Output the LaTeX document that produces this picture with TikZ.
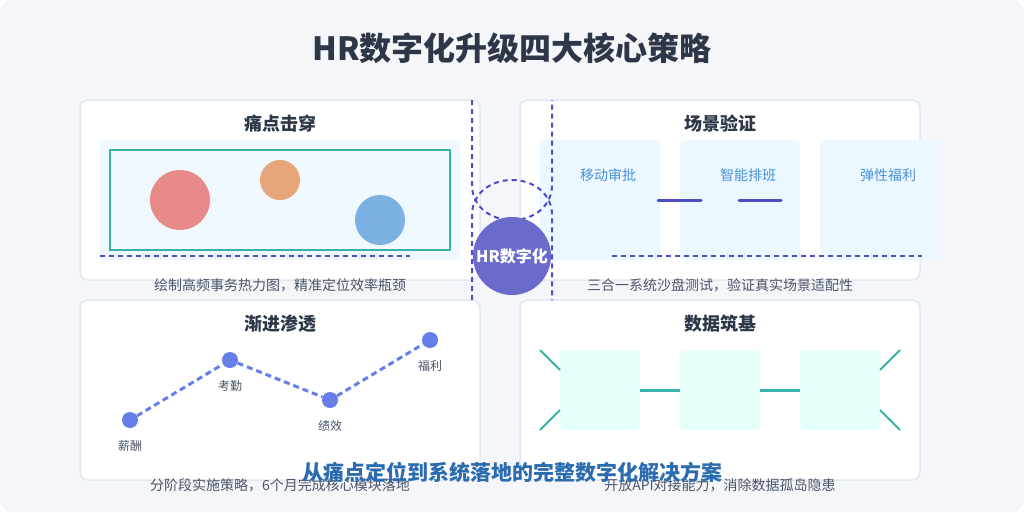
\documentclass[tikz,border=0pt]{standalone}
\usepackage{fontspec}
\setmainfont{Noto Sans CJK SC}
\usetikzlibrary{positioning}
\definecolor{bgcol}{HTML}{F4F6FA}
\definecolor{edgecol}{HTML}{E2E8F0}
\definecolor{inkcol}{HTML}{2D3748}
\definecolor{capcol}{HTML}{4A5568}
\definecolor{tealcol}{HTML}{38B2AC}
\definecolor{guidecol}{HTML}{4C4CC4}
\definecolor{hrcol}{HTML}{6B6BCC}
\definecolor{hotbg}{HTML}{F0F8FF}
\definecolor{hotred}{HTML}{E88A8A}
\definecolor{hotorange}{HTML}{E6A67A}
\definecolor{hotblue}{HTML}{7BB1E2}
\definecolor{scenebg}{HTML}{EBF8FF}
\definecolor{scenetx}{HTML}{4A90D9}
\definecolor{dotcol}{HTML}{667EEA}
\definecolor{databg}{HTML}{E6FFFA}
\definecolor{subcol}{HTML}{2B6CB0}
\begin{document}
\begin{tikzpicture}[x=1pt,y=-1pt,
  panel/.style = {rectangle,draw=edgecol,line width=1.5pt,fill=white,rounded corners=8pt,minimum width=400pt,minimum height=180pt,inner sep=0pt},
  ptitle/.style = {text=inkcol,font=\bfseries\fontsize{18}{22}\selectfont},
  caption/.style = {text=capcol,font=\fontsize{14}{17}\selectfont},
  spot/.style = {circle,inner sep=0pt},
  scenebox/.style = {rectangle,fill=scenebg,rounded corners=5pt,minimum width=120pt,minimum height=120pt,inner sep=0pt},
  scenetxt/.style = {text=scenetx,font=\fontsize{14}{17}\selectfont},
  dot/.style = {circle,fill=dotcol,minimum size=16pt,inner sep=0pt},
  dotlabel/.style = {text=capcol,font=\fontsize{12}{14}\selectfont},
  databox/.style = {rectangle,fill=databg,rounded corners=5pt,minimum size=80pt,inner sep=0pt},
  guide/.style = {draw=guidecol,line width=2pt,dash pattern=on 5pt off 4pt},
  link/.style = {draw=guidecol,line width=3pt,line cap=round},
  trend/.style = {draw=dotcol,line width=3pt,dash pattern=on 6pt off 4pt},
  bridge/.style = {draw=tealcol,line width=3pt},
  spoke/.style = {draw=tealcol,line width=2pt}]
\useasboundingbox (0,0) rectangle (1024,512);
\fill[white] (0,0) rectangle (1024,512);
\fill[bgcol,rounded corners=12pt] (0,0) rectangle (1024,512);
\node[text=inkcol,font=\bfseries\fontsize{32}{38}\selectfont] (title) at (512,48) {HR数字化升级四大核心策略};
\foreach \nm/\x/\y/\t/\c in {tl/280/190/痛点击穿/绘制高频事务热力图，精准定位效率瓶颈,
                             tr/720/190/场景验证/三合一系统沙盘测试，验证真实场景适配性,
                             bl/280/390/渐进渗透/分阶段实施策略，6个月完成核心模块落地,
                             br/720/390/数据筑基/开放API对接能力，消除数据孤岛隐患}
  {\node[panel] (\nm) at (\x,\y) {};
   \node[ptitle] (\nm-t) at (\x,\y-66) {\t};
   \node[caption] (\nm-c) at (\x,\y+95) {\c};}
\fill[hotbg] (100,140) rectangle (460,260);
\draw[tealcol,line width=2pt] (110,150) rectangle (450,250);
\node[spot,fill=hotred,minimum size=60pt] (s1) at (180,200) {};
\node[spot,fill=hotorange,minimum size=40pt] (s2) at (280,180) {};
\node[spot,fill=hotblue,minimum size=50pt] (s3) at (380,220) {};
\foreach \i/\x/\t in {1/600/移动审批, 2/740/智能排班, 3/880/弹性福利}
  {\node[scenebox] (b\i) at (\x,200) {};
   \node[scenetxt] (b\i-t) at (\x+8,175) {\t};}
\coordinate (l1) at (658,200);
\coordinate (l2) at (701,200);
\coordinate (l3) at (739,200);
\coordinate (l4) at (781,200);
\draw[link] (l1) -- (l2);
\draw[link] (l3) -- (l4);
\foreach \i/\x/\y/\t in {1/130/420/薪酬, 2/230/360/考勤, 3/330/400/绩效, 4/430/340/福利}
  {\node[dot] (p\i) at (\x,\y) {};
   \node[dotlabel] (p\i-t) at (\x,\y+26) {\t};}
\draw[trend] (p1) -- (p2) -- (p3) -- (p4);
\foreach \i/\x in {1/600, 2/720, 3/840}
  \node[databox] (d\i) at (\x,390) {};
\draw[bridge] (d1.east) -- (d2.west);
\draw[bridge] (d2.east) -- (d3.west);
\foreach \a/\b/\c/\d [count=\k] in {540/350/560/370, 540/430/560/410, 900/350/880/370, 900/430/880/410}
  {\coordinate (ea\k) at (\a,\b);
   \coordinate (eb\k) at (\c,\d);
   \draw[spoke] (ea\k) -- (eb\k);}
\draw[guide] (100,256) -- (410,256);
\draw[guide] (612,256) -- (922,256);
\draw[guide] (472,100) -- (472,185) .. controls (472,206) and (490,220) .. (512,220)
  .. controls (534,220) and (552,206) .. (552,185) -- (552,100);
\draw[guide] (472,300) -- (472,215) .. controls (472,194) and (490,180) .. (512,180)
  .. controls (534,180) and (552,194) .. (552,215) -- (552,300);
\node[circle,fill=hrcol,minimum size=78pt,inner sep=0pt,text=white,font=\bfseries\fontsize{16}{19}\selectfont] (hr) at (512,256) {HR数字化};
\node[text=subcol,font=\bfseries\fontsize{21}{25}\selectfont] (sub) at (512,472) {从痛点定位到系统落地的完整数字化解决方案};
\end{tikzpicture}
\end{document}
